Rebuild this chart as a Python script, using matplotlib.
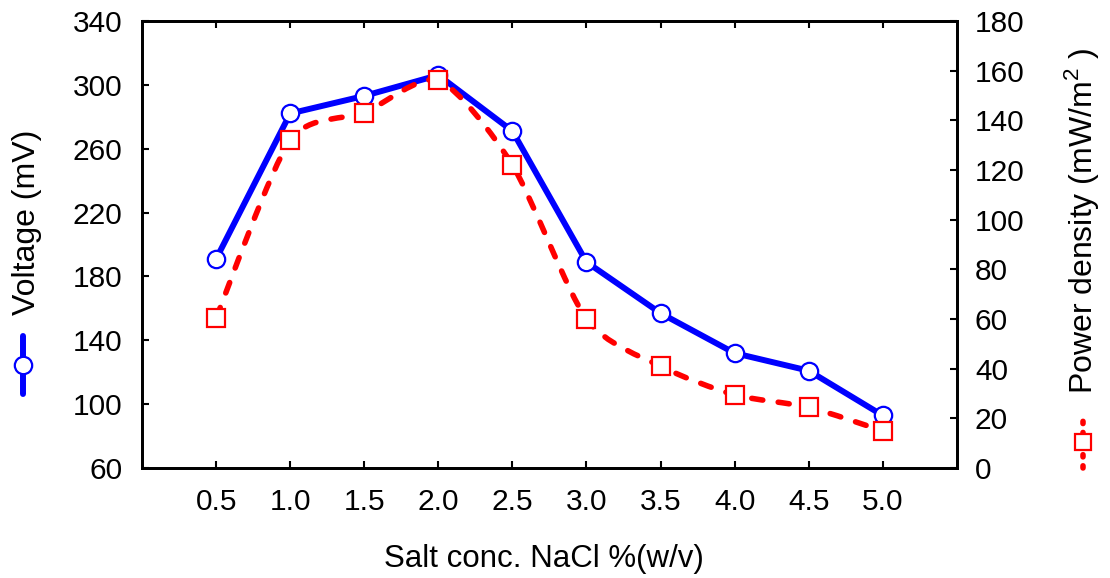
import numpy as np
import matplotlib
matplotlib.use("Agg")
import matplotlib.pyplot as plt
from matplotlib.lines import Line2D
from matplotlib.path import Path
from matplotlib.patches import PathPatch

plt.rcParams['font.family'] = ['Liberation Sans', 'DejaVu Sans']
plt.rcParams['mathtext.fontset'] = 'custom'
plt.rcParams['mathtext.rm'] = 'Liberation Sans'

# ── Data ─────────────────────────────────────────────────────────────────
salt_conc = [0.5, 1.0, 1.5, 2.0, 2.5, 3.0, 3.5, 4.0, 4.5, 5.0]
x_labels = ['0.5', '1.0', '1.5', '2.0', '2.5', '3.0', '3.5', '4.0', '4.5', '5.0']
voltage = [191, 282, 293, 306, 271, 189, 157, 132, 121, 93]
power_density = [60.5, 132, 143, 156, 122, 60, 41, 29.5, 24.5, 15]

BLUE = '#0000ff'
RED = '#ff0000'


def smooth_path(xs, ys, k=8.0):
    """Cardinal-spline curve through the points as cubic Bezier segments."""
    pts = np.column_stack([xs, ys]).astype(float)
    ext = np.vstack([pts[0], pts, pts[-1]])
    verts = [tuple(pts[0])]
    codes = [Path.MOVETO]
    for i in range(1, len(ext) - 2):
        p0, p1, p2, p3 = ext[i - 1], ext[i], ext[i + 1], ext[i + 2]
        c1 = p1 + (p2 - p0) / k
        c2 = p2 - (p3 - p1) / k
        verts += [tuple(c1), tuple(c2), tuple(p2)]
        codes += [Path.CURVE4] * 3
    return Path(verts, codes)


fig = plt.figure(figsize=(11.10, 5.78), dpi=100)
ax = fig.add_axes([0.128, 0.190, 0.734, 0.774])
ax2 = ax.twinx()

# ── Voltage (left axis) ─────────────────────────────────────────────────
ax.plot(salt_conc, voltage, color=BLUE, lw=4.3, solid_joinstyle='round',
        marker='o', ms=12.5, mfc='white', mec=BLUE, mew=1.6, zorder=3)

# ── Power density (right axis), smoothed dashed line ───────────────────
pp = PathPatch(smooth_path(salt_conc, power_density), fill=False,
               edgecolor=RED, lw=4.0, linestyle=(0, (2.0, 2.8)),
               capstyle='round', zorder=2)
ax2.add_patch(pp)
ax2.plot(salt_conc, power_density, ls='none', marker='s', ms=12.5,
         mfc='white', mec=RED, mew=1.6, zorder=3)

ax.set_xlim(0, 5.5)
ax.set_ylim(60, 340)
ax2.set_ylim(0, 180)
ax.set_xticks(salt_conc)
ax.set_xticklabels(x_labels)
ax.set_yticks(np.arange(60, 341, 40))
ax2.set_yticks(np.arange(0, 181, 20))

for a in (ax, ax2):
    for s in a.spines.values():
        s.set_linewidth(2.0)
ax.tick_params(axis='x', direction='in', length=5, width=1.5, pad=14,
               labelsize=21.5, top=True)
ax.tick_params(axis='y', direction='in', length=5, width=1.5, pad=14,
               labelsize=21.5, right=False)
ax2.tick_params(axis='y', direction='in', length=5, width=1.5, pad=13,
                labelsize=21.5)

fig.text(0.490, 0.019, 'Salt conc. NaCl %(w/v)', fontsize=22.5,
         ha='center', va='baseline')
fig.text(0.024, 0.616, 'Voltage (mV)', rotation=90, fontsize=23,
         ha='center', va='center')
fig.text(0.974, 0.617, r'Power density (mW/m$^{2}$ )', rotation=90,
         fontsize=23, ha='center', va='center')

# ── Axis-label legend keys ──────────────────────────────────────────────
fig.add_artist(Line2D([0.0205, 0.0205], [0.318, 0.418], color=BLUE, lw=4.3,
                      solid_capstyle='round', transform=fig.transFigure))
fig.add_artist(Line2D([0.0205], [0.368], ls='none', marker='o', ms=12.5,
                      mfc='white', mec=BLUE, mew=1.6,
                      transform=fig.transFigure))
fig.add_artist(Line2D([0.9755, 0.9755], [0.190, 0.275], color=RED, lw=4.0,
                      linestyle=(0, (0.4, 1.6)), dash_capstyle='round',
                      transform=fig.transFigure))
fig.add_artist(Line2D([0.9755], [0.236], ls='none', marker='s', ms=11,
                      mfc='white', mec=RED, mew=1.6,
                      transform=fig.transFigure))

fig.savefig('out.png', dpi=100)
